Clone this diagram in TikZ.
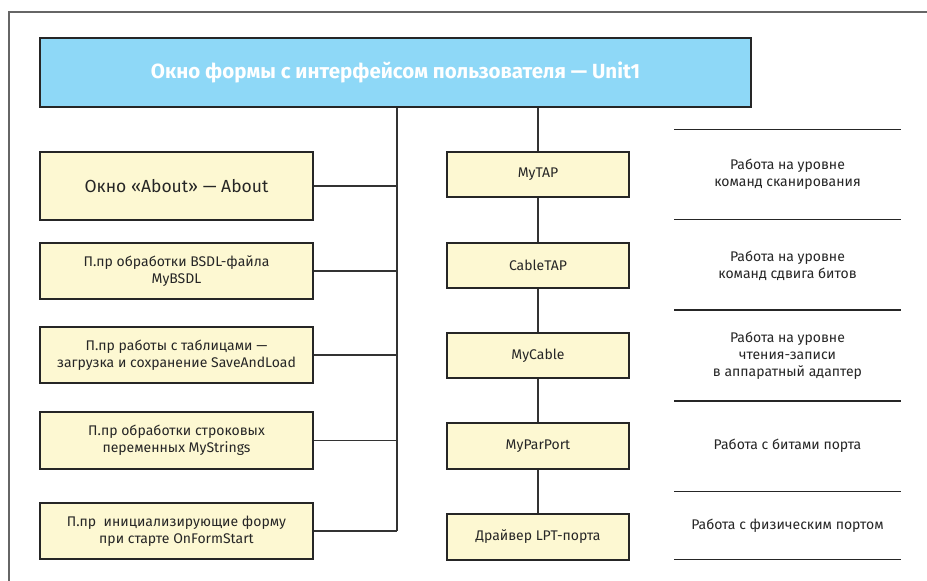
\documentclass[tikz,border=0pt]{standalone}
\usepackage{fontspec}
\setmainfont{Fira Sans}
\begin{document}
\begin{tikzpicture}[x=1pt,y=-1pt,
  box/.style={draw=black!85,line width=1.8pt,fill=yellowbox,inner sep=0pt,align=center,
    font=\fontsize{14}{17}\selectfont,text=black!85},
  lbox/.style={box,minimum width=273pt},
  rbox/.style={box,minimum width=182pt},
  conn/.style={draw=black!80,line width=1.2pt},
  sep/.style={draw=black!85,line width=1.3pt},
  lbl/.style={align=center,inner sep=0pt,font=\fontsize{14}{17}\selectfont,text=black!85}]
\definecolor{yellowbox}{HTML}{FDF8D2}
\definecolor{bluebox}{HTML}{8ED8F7}
\useasboundingbox (0,0) rectangle (927,581);
\fill[white] (0,0) rectangle (927,581);
\draw[draw=black!60,line width=1.5pt] (9,581) -- (9,12) -- (927,12);
% top
\node[draw=black!85,line width=2pt,fill=bluebox,minimum width=711pt,minimum height=69pt,inner sep=0pt,
  text=white,font=\fontsize{20.5}{22}\selectfont\bfseries] (top) at (395.5,72.5)
  {Окно формы с интерфейсом пользователя — Unit1};
% left column
\node[lbox,minimum height=68pt,font=\fontsize{17.5}{20}\selectfont] (about) at (176.5,186) {Окно «About» — About};
\node[lbox,minimum height=56pt] (bsdl) at (176.5,271) {П.пр обработки BSDL-файла\\MyBSDL};
\node[lbox,minimum height=56pt] (save) at (176.5,355) {П.пр работы с таблицами —\\загрузка и сохранение SaveAndLoad};
\node[lbox,minimum height=57pt] (strs) at (176.5,440.5) {П.пр обработки строковых\\переменных MyStrings};
\node[lbox,minimum height=56pt] (start) at (176.5,531) {П.пр\ \ инициализирующие форму\\при старте OnFormStart};
% right column
\node[rbox,minimum height=45pt] (mytap) at (538,174.5) {MyTAP};
\node[rbox,minimum height=45pt] (cabletap) at (538,265.5) {CableTAP};
\node[rbox,minimum height=45pt] (mycable) at (538,355.5) {MyCable};
\node[rbox,minimum height=46pt] (parport) at (538,446) {MyParPort};
\node[rbox,minimum height=46pt] (drv) at (538,537) {Драйвер LPT-порта};
% connectors left
\coordinate (tk) at (397,531);
\draw[conn] (top.south -| tk) -- (tk);
\foreach \n in {about,bsdl,save,strs,start}{\draw[conn] (\n.east) -- (\n.east -| tk);}
% connectors right
\draw[conn] (top.south -| mytap.north) -- (mytap.north);
\draw[conn] (mytap) -- (cabletap);
\draw[conn] (cabletap) -- (mycable);
\draw[conn] (mycable) -- (parport);
\draw[conn] (parport) -- (drv);
% separators
\foreach \y in {129.5,219.5,310,401,491.5,559.5}{\draw[sep] (674,\y) -- (901,\y);}
% labels
\node[lbl] (l1) at (787.5,174.5) {Работа на уровне\\команд сканирования};
\node[lbl] (l2) at (787.5,265.5) {Работа на уровне\\команд сдвига битов};
\node[lbl] (l3) at (787.5,355.5) {Работа на уровне\\чтения-записи\\в аппаратный адаптер};
\node[lbl] (l4) at (787.5,446) {Работа с битами порта};
\node[lbl] (l5) at (787.5,526) {Работа с физическим портом};
\end{tikzpicture}
\end{document}
